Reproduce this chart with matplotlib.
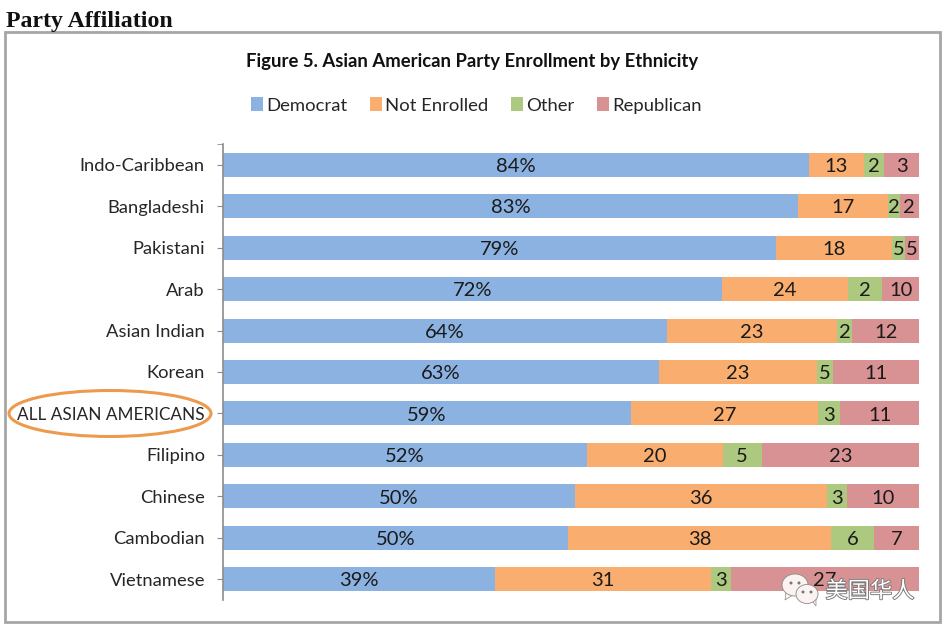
import matplotlib
matplotlib.use("Agg")
import matplotlib.pyplot as plt
import matplotlib.patheffects as pe
from matplotlib.patches import Ellipse, Rectangle, Polygon

W, H = 947, 632

groups = ["Indo-Caribbean", "Bangladeshi", "Pakistani", "Arab", "Asian Indian", "Korean",
          "ALL ASIAN AMERICANS", "Filipino", "Chinese", "Cambodian", "Vietnamese"]
series = ["Democrat", "Not Enrolled", "Other", "Republican"]
colors = ["#8cb2e2", "#f9ae6f", "#adc87f", "#d99294"]

# drawn bar lengths, the printed labels do not always agree with them
democrat = [84.2, 82.6, 79.5, 71.7, 63.8, 62.6, 58.6, 52.3, 50.6, 49.6, 39.1]
not_enrolled = [7.9, 12.9, 16.6, 18.1, 24.4, 22.7, 26.9, 19.5, 36.2, 37.8, 31.0]
other = [2.9, 1.7, 1.9, 4.9, 2.2, 2.3, 3.2, 5.6, 2.9, 6.2, 2.9]
republican = [5.0, 2.8, 2.0, 5.3, 9.6, 12.4, 11.3, 22.6, 10.3, 6.4, 27.0]

democrat_labels = ["84%", "83%", "79%", "72%", "64%", "63%", "59%", "52%", "50%", "50%", "39%"]
not_enrolled_labels = ["13", "17", "18", "24", "23", "23", "27", "20", "36", "38", "31"]
other_labels = ["2", "2", "5", "2", "2", "5", "3", "5", "3", "6", "3"]
republican_labels = ["3", "2", "5", "10", "12", "11", "11", "23", "10", "7", "27"]

plt.rcParams["font.family"] = ["Lato", "DejaVu Sans"]

fig = plt.figure(figsize=(W / 100, H / 100), dpi=100)
fig.patch.set_facecolor("white")


def fx(px):
    return px / W


def fy(py):
    return 1 - py / H


# outer frame and heading
fig.add_artist(Rectangle((fx(5), fy(622)), 935 / W, 590 / H, transform=fig.transFigure,
                         fc="white", ec="#a6a6a6", lw=2, zorder=-1))
fig.text(fx(6), fy(21), "Party Affiliation", family="Liberation Serif", weight="bold",
         fontsize=17.2, color="#111111", va="center")
fig.text(fx(472.5), fy(61.5), "Figure 5. Asian American Party Enrollment by Ethnicity",
         weight="bold", fontsize=13.3, color="#111111", ha="center", va="center")

ax = fig.add_axes([fx(223), fy(600), 696 / W, 456 / H])
ax.set_facecolor("none")
ax.set_xlim(0, 100)
ax.set_ylim(len(groups) - 0.5, -0.5)

left = [0] * len(groups)
all_labels = [democrat_labels, not_enrolled_labels, other_labels, republican_labels]
for name, vals, col, labs in zip(series, [democrat, not_enrolled, other, republican], colors, all_labels):
    bars = ax.barh(range(len(groups)), vals, left=left, height=0.58, color=col, label=name)
    for b, lab in zip(bars, labs):
        ax.text(b.get_x() + b.get_width() / 2, b.get_y() + b.get_height() / 2 + 0.04, lab,
                ha="center", va="center", fontsize=14.5, color="#1a1a1a", zorder=3)
    left = [a + b for a, b in zip(left, vals)]

ax.set_yticks(range(len(groups)))
ax.set_yticklabels(groups, fontsize=13.2, color="#262626")
# capitals run wider in this font than in the original one
ax.get_yticklabels()[groups.index("ALL ASIAN AMERICANS")].set_fontsize(12.3)
ax.set_yticks([-0.5], minor=True)
ax.tick_params(axis="y", which="both", length=4, color="#8c8c8c")
ax.tick_params(axis="y", which="major", pad=9)
ax.set_xticks([])
for s in ["top", "right", "bottom"]:
    ax.spines[s].set_visible(False)
ax.spines["left"].set_color("#8c8c8c")
ax.spines["left"].set_linewidth(1.2)

fig.legend(loc="center", bbox_to_anchor=(fx(476.5), fy(105.5)), ncol=4, frameon=False, fontsize=13.3,
           handlelength=0.65, handleheight=0.75, handletextpad=0.2, columnspacing=1.2,
           labelcolor="#262626")

# hand drawn ring around the total row
fig.add_artist(Ellipse((fx(110), fy(413.5)), 202 / W, 46 / H, transform=fig.transFigure,
                       fc="none", ec="#ee9a4d", lw=2.2, zorder=5))

# watermark, two chat bubbles and the account name
for cx, cy, w, h, tail in [(795, 585, 26, 22, [(786, 592), (785, 600), (793, 595)]),
                           (807, 594, 22, 19, [(812, 601), (816, 606), (816, 599)])]:
    fig.add_artist(Polygon([(fx(x), fy(y)) for x, y in tail], transform=fig.transFigure,
                           fc="#fbf3f1", ec="#8a8a8a", lw=0.5, zorder=6))
    fig.add_artist(Ellipse((fx(cx), fy(cy)), w / W, h / H, transform=fig.transFigure,
                           fc="#fbf3f1", ec="#8a8a8a", lw=0.6, zorder=6))
    for dx in (-4, 4):
        fig.add_artist(Ellipse((fx(cx + dx), fy(cy - 2)), 3 / W, 3 / H, transform=fig.transFigure,
                               fc="#777777", ec="none", zorder=7))
wm = fig.text(fx(870), fy(591), "美国华人", family=["Noto Sans CJK SC", "DejaVu Sans"], fontsize=16,
              color="white", ha="center", va="center", zorder=6)
wm.set_path_effects([pe.withStroke(linewidth=1.3, foreground="#777777")])

fig.savefig("out.png", dpi=100)
